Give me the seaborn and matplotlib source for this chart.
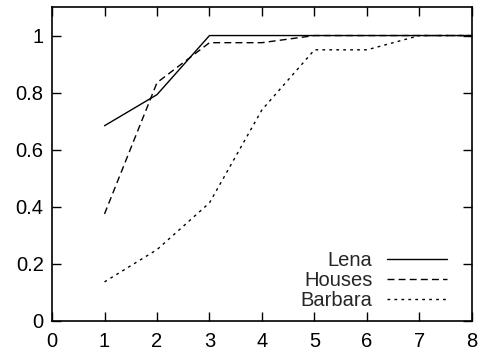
import matplotlib
matplotlib.use("Agg")
import matplotlib.pyplot as plt
import seaborn as sns
import pandas as pd

x = [1, 2, 3, 4, 5, 6, 7, 8]
lena = [0.684, 0.793, 1.0, 1.0, 1.0, 1.0, 1.0, 1.0]
houses = [0.375, 0.835, 0.975, 0.975, 1.0, 1.0, 1.0, 1.0]
barbara = [0.137, 0.25, 0.414, 0.74, 0.95, 0.95, 1.0, 1.0]
series_names = ["Lena", "Houses", "Barbara"]

sns.set_style("ticks")
plt.rcParams['font.family'] = ['Liberation Sans', 'DejaVu Sans']

df = pd.DataFrame({
    "x": x * 3,
    "y": lena + houses + barbara,
    "series": sum([[n] * len(x) for n in series_names], []),
})

fig = plt.figure(figsize=(4.81, 3.52), dpi=100)
ax = fig.add_axes([52 / 481, 31 / 352, 420 / 481, 314 / 352])

sns.lineplot(data=df, x="x", y="y", hue="series", style="series",
             palette=["black"] * 3,
             dashes={"Lena": "", "Houses": (5, 3), "Barbara": (2, 3)},
             linewidth=1.0, ax=ax)

ax.set_xlim(0, 8)
ax.set_ylim(0, 1.1)
ax.set_xticks(range(0, 9))
ax.set_yticks([0, 0.2, 0.4, 0.6, 0.8, 1])
ax.set_yticklabels(["0", "0.2", "0.4", "0.6", "0.8", "1"])
ax.set_xlabel("")
ax.set_ylabel("")
ax.tick_params(direction="in", length=6.5, width=1, top=True, right=True,
               labelsize=14.5, colors="black", pad=6)
ax.tick_params(axis="x", pad=8)
for s in ax.spines.values():
    s.set_linewidth(1.2)
    s.set_color("black")

leg = ax.legend(loc="lower right", bbox_to_anchor=(395 / 420, 11 / 314),
                frameon=False, markerfirst=False, borderpad=0, borderaxespad=0,
                fontsize=14.5, handlelength=3.0, labelspacing=0.05,
                handletextpad=0.7)
for t in leg.get_texts():
    t.set_ha("right")
leg._legend_box.align = "right"

fig.savefig("out.png", dpi=100)
